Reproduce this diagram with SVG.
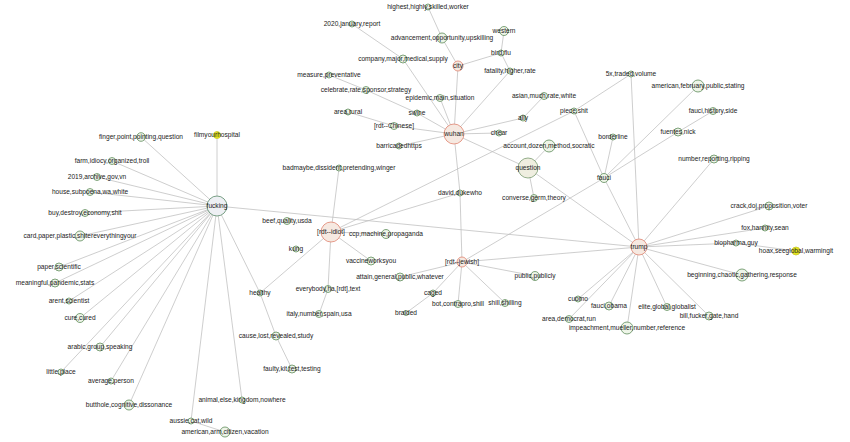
<svg xmlns="http://www.w3.org/2000/svg" width="850" height="442" viewBox="0 0 850 442">
<style>
.e{stroke:#bdbdbd;stroke-width:0.75;fill:none}
.g{fill:#eef5e8;stroke:#5e8c5a;stroke-width:0.8}
.r{fill:#f6e9e1;stroke:#e0836e;stroke-width:0.8}
.p{fill:#eef0f4;stroke:#5a8a6a;stroke-width:0.8}
.q{fill:#efeee0;stroke:#7a9a70;stroke-width:0.8}
.y{fill:#e6e61e;stroke:#c8c830;stroke-width:0.8}
text{font-family:"Liberation Sans",Arial,sans-serif;font-size:6.6px;fill:#222;text-anchor:middle}
</style>
<rect width="850" height="442" fill="#ffffff"/>
<g id="connectors">
<line class="e" x1="217" y1="206" x2="217" y2="135"/>
<line class="e" x1="217" y1="206" x2="141" y2="137"/>
<line class="e" x1="217" y1="206" x2="112" y2="161"/>
<line class="e" x1="217" y1="206" x2="97" y2="177"/>
<line class="e" x1="217" y1="206" x2="90" y2="192"/>
<line class="e" x1="217" y1="206" x2="85" y2="213"/>
<line class="e" x1="217" y1="206" x2="80" y2="236"/>
<line class="e" x1="217" y1="206" x2="59" y2="267"/>
<line class="e" x1="217" y1="206" x2="55" y2="283"/>
<line class="e" x1="217" y1="206" x2="69" y2="301"/>
<line class="e" x1="217" y1="206" x2="80" y2="318"/>
<line class="e" x1="217" y1="206" x2="100" y2="347"/>
<line class="e" x1="217" y1="206" x2="61" y2="372"/>
<line class="e" x1="217" y1="206" x2="111" y2="381"/>
<line class="e" x1="217" y1="206" x2="129" y2="405"/>
<line class="e" x1="217" y1="206" x2="191" y2="421"/>
<line class="e" x1="217" y1="206" x2="242" y2="400"/>
<line class="e" x1="217" y1="206" x2="260" y2="293"/>
<line class="e" x1="217" y1="206" x2="639" y2="247"/>
<line class="e" x1="191" y1="421" x2="225" y2="432"/>
<line class="e" x1="260" y1="293" x2="276" y2="336"/>
<line class="e" x1="276" y1="336" x2="292" y2="369"/>
<line class="e" x1="260" y1="293" x2="331" y2="232"/>
<line class="e" x1="331" y1="232" x2="339" y2="168"/>
<line class="e" x1="331" y1="232" x2="386" y2="234"/>
<line class="e" x1="331" y1="232" x2="371" y2="261"/>
<line class="e" x1="331" y1="232" x2="328" y2="289"/>
<line class="e" x1="331" y1="232" x2="460" y2="193"/>
<line class="e" x1="331" y1="232" x2="574" y2="111"/>
<line class="e" x1="328" y1="289" x2="319" y2="314"/>
<line class="e" x1="454" y1="134" x2="460" y2="193"/>
<line class="e" x1="460" y1="193" x2="462" y2="262"/>
<line class="e" x1="462" y1="262" x2="400" y2="277"/>
<line class="e" x1="462" y1="262" x2="433" y2="293"/>
<line class="e" x1="433" y1="293" x2="406" y2="313"/>
<line class="e" x1="462" y1="262" x2="458" y2="304"/>
<line class="e" x1="462" y1="262" x2="505" y2="303"/>
<line class="e" x1="462" y1="262" x2="535" y2="276"/>
<line class="e" x1="462" y1="262" x2="639" y2="247"/>
<line class="e" x1="462" y1="262" x2="604" y2="178"/>
<line class="e" x1="454" y1="134" x2="458" y2="66"/>
<line class="e" x1="454" y1="134" x2="403" y2="59"/>
<line class="e" x1="352" y1="24" x2="403" y2="59"/>
<line class="e" x1="329" y1="75" x2="366" y2="90"/>
<line class="e" x1="366" y1="90" x2="417" y2="113"/>
<line class="e" x1="417" y1="113" x2="454" y2="134"/>
<line class="e" x1="348" y1="112" x2="394" y2="126"/>
<line class="e" x1="394" y1="126" x2="454" y2="134"/>
<line class="e" x1="454" y1="134" x2="399" y2="146"/>
<line class="e" x1="454" y1="134" x2="499" y2="133"/>
<line class="e" x1="454" y1="134" x2="523" y2="118"/>
<line class="e" x1="523" y1="118" x2="544" y2="96"/>
<line class="e" x1="454" y1="134" x2="510" y2="71"/>
<line class="e" x1="454" y1="134" x2="440" y2="98"/>
<line class="e" x1="454" y1="134" x2="528" y2="168"/>
<line class="e" x1="458" y1="66" x2="442" y2="38"/>
<line class="e" x1="442" y1="38" x2="428" y2="7"/>
<line class="e" x1="458" y1="66" x2="501" y2="53"/>
<line class="e" x1="501" y1="53" x2="504" y2="31"/>
<line class="e" x1="501" y1="53" x2="510" y2="71"/>
<line class="e" x1="528" y1="168" x2="549" y2="146"/>
<line class="e" x1="528" y1="168" x2="534" y2="198"/>
<line class="e" x1="528" y1="168" x2="639" y2="247"/>
<line class="e" x1="574" y1="111" x2="631" y2="74"/>
<line class="e" x1="574" y1="111" x2="604" y2="178"/>
<line class="e" x1="631" y1="74" x2="639" y2="247"/>
<line class="e" x1="604" y1="178" x2="613" y2="137"/>
<line class="e" x1="604" y1="178" x2="698" y2="86"/>
<line class="e" x1="604" y1="178" x2="678" y2="132"/>
<line class="e" x1="678" y1="132" x2="713" y2="111"/>
<line class="e" x1="604" y1="178" x2="639" y2="247"/>
<line class="e" x1="639" y1="247" x2="714" y2="159"/>
<line class="e" x1="639" y1="247" x2="769" y2="206"/>
<line class="e" x1="639" y1="247" x2="765" y2="228"/>
<line class="e" x1="639" y1="247" x2="736" y2="243"/>
<line class="e" x1="736" y1="243" x2="796" y2="251"/>
<line class="e" x1="639" y1="247" x2="742" y2="275"/>
<line class="e" x1="639" y1="247" x2="709" y2="316"/>
<line class="e" x1="639" y1="247" x2="667" y2="307"/>
<line class="e" x1="639" y1="247" x2="627" y2="328"/>
<line class="e" x1="639" y1="247" x2="609" y2="306"/>
<line class="e" x1="639" y1="247" x2="578" y2="299"/>
<line class="e" x1="639" y1="247" x2="569" y2="319"/>
</g>
<g id="n-fucking"><circle class="p" cx="217" cy="206" r="10"/><text x="217" y="208.3">fucking</text></g>
<g id="n-filmyourhospital"><circle class="y" cx="217" cy="135" r="3.5"/><text x="217" y="137.3">filmyourhospital</text></g>
<g id="n-finger"><circle class="g" cx="141" cy="137" r="4.3"/><text x="141" y="139.3">finger,point,pointing,question</text></g>
<g id="n-farm"><circle class="g" cx="112" cy="161" r="3.5"/><text x="112" y="163.3">farm,idiocy,organized,troll</text></g>
<g id="n-2019"><circle class="g" cx="97" cy="177" r="3.5"/><text x="97" y="179.3">2019,archive,gov,vn</text></g>
<g id="n-house"><circle class="g" cx="90" cy="192" r="3.5"/><text x="90" y="194.3">house,subpoena,wa,white</text></g>
<g id="n-buy"><circle class="g" cx="85" cy="213" r="3.5"/><text x="85" y="215.3">buy,destroy,economy,shit</text></g>
<g id="n-card"><circle class="g" cx="80" cy="236" r="5"/><text x="80" y="238.3">card,paper,plastic,shitereverythingyour</text></g>
<g id="n-paper"><circle class="g" cx="59" cy="267" r="4"/><text x="59" y="269.3">paper,scientific</text></g>
<g id="n-meaningful"><circle class="g" cx="55" cy="283" r="4"/><text x="55" y="285.3">meaningful,pandemic,stats</text></g>
<g id="n-arent"><circle class="g" cx="69" cy="301" r="3"/><text x="69" y="303.3">arent,scientist</text></g>
<g id="n-cure"><circle class="g" cx="80" cy="318" r="4.5"/><text x="80" y="320.3">cure,cured</text></g>
<g id="n-arabic"><circle class="g" cx="100" cy="347" r="4"/><text x="100" y="349.3">arabic,group,speaking</text></g>
<g id="n-little"><circle class="g" cx="61" cy="372" r="3"/><text x="61" y="374.3">little,place</text></g>
<g id="n-average"><circle class="g" cx="111" cy="381" r="3"/><text x="111" y="383.3">average,person</text></g>
<g id="n-butthole"><circle class="g" cx="129" cy="405" r="5"/><text x="129" y="407.3">butthole,cognitive,dissonance</text></g>
<g id="n-aussie"><circle class="g" cx="191" cy="421" r="3"/><text x="191" y="423.3">aussie,cat,wild</text></g>
<g id="n-americanarm"><circle class="g" cx="225" cy="432" r="5"/><text x="225" y="434.3">american,arm,citizen,vacation</text></g>
<g id="n-animal"><circle class="g" cx="242" cy="400" r="3"/><text x="242" y="402.3">animal,else,kingdom,nowhere</text></g>
<g id="n-healthy"><circle class="g" cx="260" cy="293" r="3"/><text x="260" y="295.3">healthy</text></g>
<g id="n-cause"><circle class="g" cx="276" cy="336" r="4"/><text x="276" y="338.3">cause,lost,revealed,study</text></g>
<g id="n-faulty"><circle class="g" cx="292" cy="369" r="4"/><text x="292" y="371.3">faulty,kit,test,testing</text></g>
<g id="n-everybody"><circle class="g" cx="328" cy="289" r="3.5"/><text x="328" y="291.3">everybody,ha,[rdt],text</text></g>
<g id="n-italy"><circle class="g" cx="319" cy="314" r="3.5"/><text x="319" y="316.3">italy,number,spain,usa</text></g>
<g id="n-idiot"><circle class="r" cx="331" cy="232" r="10"/><text x="331" y="234.3">[rdt--idiot]</text></g>
<g id="n-badmaybe"><circle class="g" cx="339" cy="168" r="3"/><text x="339" y="170.3">badmaybe,dissident,pretending,winger</text></g>
<g id="n-beef"><circle class="g" cx="287" cy="221" r="3.5"/><text x="287" y="223.3">beef,quality,usda</text></g>
<g id="n-kung"><circle class="g" cx="296" cy="249" r="3"/><text x="296" y="251.3">kung</text></g>
<g id="n-ccp"><circle class="g" cx="386" cy="234" r="4.5"/><text x="386" y="236.3">ccp,machine,propaganda</text></g>
<g id="n-vaccine"><circle class="g" cx="371" cy="261" r="4"/><text x="371" y="263.3">vaccineworksyou</text></g>
<g id="n-david"><circle class="g" cx="460" cy="193" r="3"/><text x="460" y="195.3">david,dukewho</text></g>
<g id="n-jewish"><circle class="r" cx="462" cy="262" r="5"/><text x="462" y="264.3">[rdt--jewish]</text></g>
<g id="n-attain"><circle class="g" cx="400" cy="277" r="4"/><text x="400" y="279.3">attain,general,public,whatever</text></g>
<g id="n-caged"><circle class="g" cx="433" cy="293" r="3"/><text x="433" y="295.3">caged</text></g>
<g id="n-bot"><circle class="g" cx="458" cy="304" r="3.5"/><text x="458" y="306.3">bot,contrapro,shill</text></g>
<g id="n-shill"><circle class="g" cx="505" cy="303" r="3.5"/><text x="505" y="305.3">shill,shilling</text></g>
<g id="n-braided"><circle class="g" cx="406" cy="313" r="2.5"/><text x="406" y="315.3">braided</text></g>
<g id="n-public"><circle class="g" cx="535" cy="276" r="4.5"/><text x="535" y="278.3">public,publicly</text></g>
<g id="n-wuhan"><circle class="r" cx="454" cy="134" r="10"/><text x="454" y="136.3">wuhan</text></g>
<g id="n-city"><circle class="r" cx="458" cy="66" r="5"/><text x="458" y="68.3">city</text></g>
<g id="n-highest"><circle class="g" cx="428" cy="7" r="3"/><text x="428" y="9.3">highest,highly,skilled,worker</text></g>
<g id="n-advancement"><circle class="g" cx="442" cy="38" r="5"/><text x="442" y="40.3">advancement,opportunity,upskilling</text></g>
<g id="n-2020"><circle class="g" cx="352" cy="24" r="3"/><text x="352" y="26.3">2020,january,report</text></g>
<g id="n-western"><circle class="g" cx="504" cy="31" r="4.5"/><text x="504" y="33.3">western</text></g>
<g id="n-birdflu"><circle class="g" cx="501" cy="53" r="3"/><text x="501" y="55.3">bird,flu</text></g>
<g id="n-company"><circle class="g" cx="403" cy="59" r="4"/><text x="403" y="61.3">company,major,medical,supply</text></g>
<g id="n-fatality"><circle class="g" cx="510" cy="71" r="3"/><text x="510" y="73.3">fatality,higher,rate</text></g>
<g id="n-measure"><circle class="g" cx="329" cy="75" r="3"/><text x="329" y="77.3">measure,preventative</text></g>
<g id="n-celebrate"><circle class="g" cx="366" cy="90" r="3.5"/><text x="366" y="92.3">celebrate,rate,sponsor,strategy</text></g>
<g id="n-epidemic"><circle class="g" cx="440" cy="98" r="3.5"/><text x="440" y="100.3">epidemic,main,situation</text></g>
<g id="n-asian"><circle class="g" cx="544" cy="96" r="3.5"/><text x="544" y="98.3">asian,much,rate,white</text></g>
<g id="n-arearural"><circle class="g" cx="348" cy="112" r="3"/><text x="348" y="114.3">area,rural</text></g>
<g id="n-swine"><circle class="g" cx="417" cy="113" r="3"/><text x="417" y="115.3">swine</text></g>
<g id="n-ally"><circle class="g" cx="523" cy="118" r="3"/><text x="523" y="120.3">ally</text></g>
<g id="n-chinese"><circle class="g" cx="394" cy="126" r="3.5"/><text x="394" y="128.3">[rdt--Chinese]</text></g>
<g id="n-chear"><circle class="g" cx="499" cy="133" r="3"/><text x="499" y="135.3">chear</text></g>
<g id="n-barricaded"><circle class="g" cx="399" cy="146" r="3"/><text x="399" y="148.3">barricadedhttps</text></g>
<g id="n-account"><circle class="g" cx="549" cy="146" r="6"/><text x="549" y="148.3">account,dozen,method,socratic</text></g>
<g id="n-question"><circle class="q" cx="528" cy="168" r="10"/><text x="528" y="170.3">question</text></g>
<g id="n-converse"><circle class="g" cx="534" cy="198" r="3.5"/><text x="534" y="200.3">converse,germ,theory</text></g>
<g id="n-5x"><circle class="g" cx="631" cy="74" r="3"/><text x="631" y="76.3">5x,traded,volume</text></g>
<g id="n-pieceshit"><circle class="g" cx="574" cy="111" r="3"/><text x="574" y="113.3">piece,shit</text></g>
<g id="n-americanfeb"><circle class="g" cx="698" cy="86" r="6"/><text x="698" y="88.3">american,february,public,stating</text></g>
<g id="n-faucihistory"><circle class="g" cx="713" cy="111" r="3.5"/><text x="713" y="113.3">fauci,history,side</text></g>
<g id="n-fuentes"><circle class="g" cx="678" cy="132" r="4"/><text x="678" y="134.3">fuentes,nick</text></g>
<g id="n-borderline"><circle class="g" cx="613" cy="137" r="3"/><text x="613" y="139.3">borderline</text></g>
<g id="n-number"><circle class="g" cx="714" cy="159" r="4"/><text x="714" y="161.3">number,reporting,ripping</text></g>
<g id="n-fauci"><circle class="g" cx="604" cy="178" r="4.5"/><text x="604" y="180.3">fauci</text></g>
<g id="n-trump"><circle class="r" cx="639" cy="247" r="8"/><text x="639" y="249.3">trump</text></g>
<g id="n-crack"><circle class="g" cx="769" cy="206" r="4"/><text x="769" y="208.3">crack,doj,proposition,voter</text></g>
<g id="n-fox"><circle class="g" cx="765" cy="228" r="3"/><text x="765" y="230.3">fox,hannity,sean</text></g>
<g id="n-biopharma"><circle class="g" cx="736" cy="243" r="3"/><text x="736" y="245.3">biopharma,guy</text></g>
<g id="n-hoax"><circle class="y" cx="796" cy="251" r="4"/><text x="796" y="253.3">hoax,seeglobal,warmingit</text></g>
<g id="n-beginning"><circle class="g" cx="742" cy="275" r="6"/><text x="742" y="277.3">beginning,chaotic,gathering,response</text></g>
<g id="n-cuomo"><circle class="g" cx="578" cy="299" r="3"/><text x="578" y="301.3">cuomo</text></g>
<g id="n-fauciobama"><circle class="g" cx="609" cy="306" r="4"/><text x="609" y="308.3">fauci,obama</text></g>
<g id="n-elite"><circle class="g" cx="667" cy="307" r="3.5"/><text x="667" y="309.3">elite,global,globalist</text></g>
<g id="n-areadem"><circle class="g" cx="569" cy="319" r="3.5"/><text x="569" y="321.3">area,democrat,run</text></g>
<g id="n-bill"><circle class="g" cx="709" cy="316" r="4"/><text x="709" y="318.3">bill,fucker,gate,hand</text></g>
<g id="n-impeachment"><circle class="g" cx="627" cy="328" r="6"/><text x="627" y="330.3">impeachment,mueller,number,reference</text></g>
</svg>
